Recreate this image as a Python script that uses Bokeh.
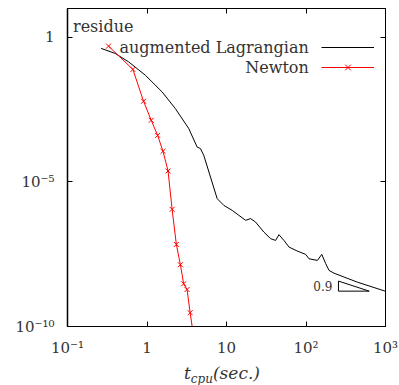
from bokeh.plotting import figure
from bokeh.models import FixedTicker, LogAxis, Legend, LegendItem, Label, Div
from bokeh.layouts import column
from bokeh.core.properties import value
from bokeh.embed import file_html
from bokeh.resources import INLINE

# augmented Lagrangian: residue vs cpu time
al_t = [0.265, 0.398, 0.586, 0.952, 1.55, 2.27, 3.35, 4.27, 4.70, 5.17, 6.29, 7.63,
        9.25, 11.8, 14.3, 17.4, 20.1, 23.2, 29.5, 35.9, 41.5, 45.7, 52.8, 61.1,
        78.0, 99.1, 109, 139, 158, 177, 195, 225, 445, 991]
al_r = [0.416, 0.279, 0.143, 0.0494, 0.0130, 3.47e-3, 7.05e-4, 1.62e-4, 1.43e-4, 8.4e-5,
        1.48e-5, 2.65e-6, 1.55e-6, 1.04e-6, 7.0e-7, 4.7e-7, 5.4e-7, 4.1e-7, 1.85e-7,
        1.09e-7, 9.5e-8, 1.5e-7, 9.5e-8, 5.6e-8, 4.06e-8, 3.12e-8, 2.2e-8, 1.93e-8,
        3.12e-8, 1.49e-8, 8.7e-9, 7.0e-9, 3.4e-9, 1.67e-9]

# Newton: residue vs cpu time
newton_t = [0.328, 0.665, 0.905, 1.13, 1.36, 1.59, 1.84, 2.07, 2.34, 2.63, 2.89, 3.19, 3.49, 3.89]
newton_r = [0.5, 0.078, 6.2e-3, 1.36e-3, 4.1e-4, 1.15e-4, 2.4e-5, 1.13e-6, 6.9e-8,
            1.37e-8, 3.0e-9, 1.9e-9, 3.0e-10, 3.8e-11]

x_ticks = [0.1, 1, 10, 100, 1000]
x_tick_labels = ["10⁻¹", "1", "10", "10²", "10³"]
y_ticks = [1e-10, 1e-5, 1]
y_tick_labels = ["10⁻¹⁰", "10⁻⁵", "1"]

# slope triangle
slope = 0.9
tri_t = [256, 624]
tri_r_low = 1.67e-9

FONT = "DejaVu Serif"
TXT = "#333333"

p = figure(frame_width=318, frame_height=318,
           x_axis_type="log", y_axis_type="log",
           x_range=(0.1, 1000), y_range=(1e-10, 10),
           output_backend="svg", toolbar_location=None,
           min_border_left=67, min_border_right=14, min_border_top=8, min_border_bottom=38,
           background_fill_color="white", border_fill_color="white")
p.xgrid.visible = False
p.ygrid.visible = False
p.outline_line_color = "black"

def style_axis(ax, ticks, labels, show_labels=True):
    ax.ticker = FixedTicker(ticks=ticks)
    ax.major_label_overrides = {t: l for t, l in zip(ticks, labels)}
    ax.major_tick_in = 5
    ax.major_tick_out = 0
    ax.minor_tick_line_color = None
    ax.axis_line_color = "black"
    ax.major_tick_line_color = "black"
    ax.major_label_text_font = FONT
    ax.major_label_text_color = TXT
    if show_labels:
        ax.major_label_text_font_size = "15px"
    else:
        ax.major_label_text_font_size = "0px"
        ax.major_label_standoff = 0

style_axis(p.xaxis[0], x_ticks, x_tick_labels)
p.xaxis[0].major_label_standoff = 12
style_axis(p.yaxis[0], y_ticks, y_tick_labels)
p.yaxis[0].major_label_standoff = 13
p.yaxis[0].axis_line_width = 1.5

top = LogAxis()
style_axis(top, x_ticks, ["" for _ in x_ticks], show_labels=False)
p.add_layout(top, "above")
right = LogAxis()
style_axis(right, y_ticks, ["" for _ in y_ticks], show_labels=False)
p.add_layout(right, "right")

al = p.line(al_t, al_r, line_color="black", line_width=1)
nl = p.line(newton_t, newton_r, line_color="red", line_width=1)
ns = p.scatter(newton_t, newton_r, marker="x", size=7, line_color="red", line_width=1)

# slope triangle
tri_r_high = tri_r_low * (tri_t[1] / tri_t[0]) ** slope
p.patch([tri_t[0], tri_t[0], tri_t[1]], [tri_r_high, tri_r_low, tri_r_low],
        fill_color=None, line_color="black", line_width=1)
p.add_layout(Label(x=tri_t[0], y=(tri_r_high * tri_r_low) ** 0.5, x_offset=-6,
                   text=str(slope), text_align="right", text_baseline="middle",
                   text_font=FONT, text_font_size="12px", text_color=TXT))

legend = Legend(items=[LegendItem(label=value(" "), renderers=[al]),
                       LegendItem(label=value(" "), renderers=[nl, ns])],
                location=(253.7, 249.3), glyph_width=53, glyph_height=20,
                label_width=0, label_standoff=0, label_height=20, padding=0, spacing=0,
                margin=0, label_text_font_size="1px", border_line_color=None,
                background_fill_alpha=0)
p.add_layout(legend, "center")

for txt, y in [("augmented Lagrangian", 279.3), ("Newton", 259.3)]:
    p.add_layout(Label(x=241.3, y=y, x_units="screen", y_units="screen", text=txt,
                       text_align="right", text_baseline="middle",
                       text_font=FONT, text_font_size="16px", text_color=TXT))

p.add_layout(Label(x=5.5, y=300, x_units="screen", y_units="screen", text="residue",
                   text_align="left", text_baseline="middle",
                   text_font=FONT, text_font_size="16px", text_color=TXT))

# x axis title t_cpu(sec.)
title_html = ('<span style="font-style:italic">t</span>'
              '<sub style="font-style:italic;font-size:12px;line-height:0">cpu</sub>'
              '<span style="font-style:italic">(sec.)</span>')
xtitle = Div(text=title_html, width=399, height=21, margin=(0, 0, 0, 0),
             styles={"font-family": FONT, "font-size": "17px", "color": TXT,
                     "padding-left": "184px", "line-height": "19px"})

layout = column(p, xtitle, spacing=0)
open("out.html", "w").write(file_html(layout, INLINE))
